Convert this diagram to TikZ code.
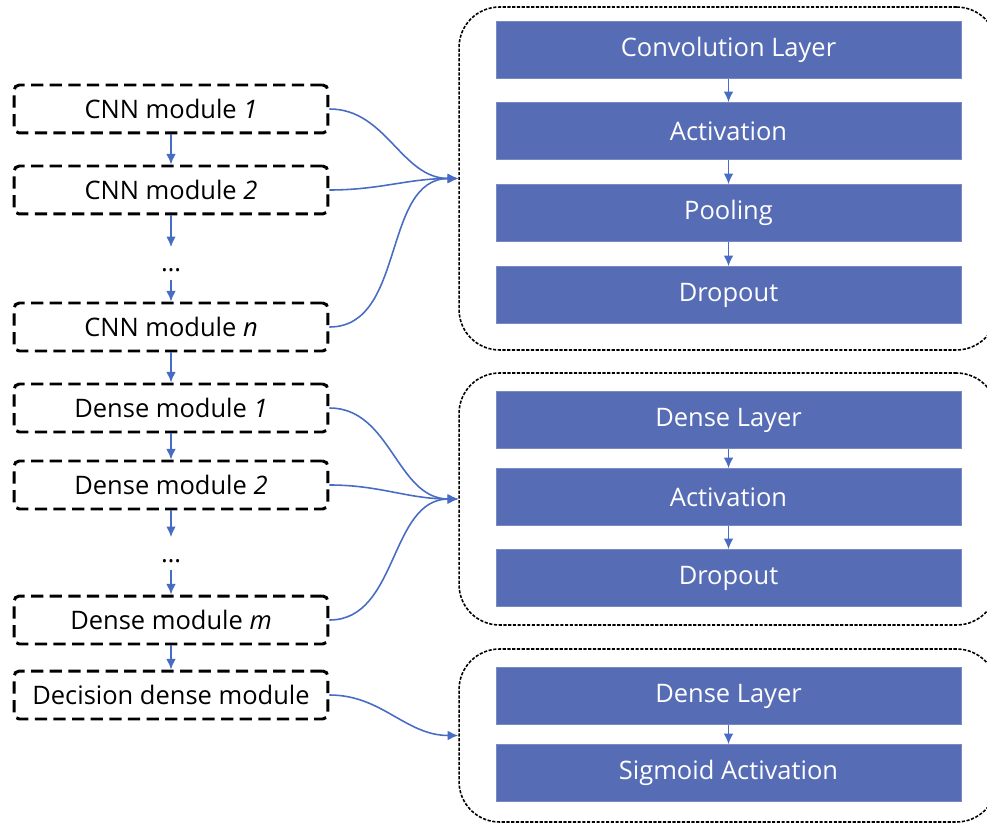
\documentclass[tikz,border=0pt]{standalone}
\usepackage{fontspec}
\setmainfont{Open Sans}
\usepackage{tikz}
\usetikzlibrary{arrows.meta}

\definecolor{layerblue}{RGB}{86,108,181}
\definecolor{linkblue}{RGB}{72,108,196}

\tikzset{
  module/.style={draw, line width=1.7pt, dash pattern=on 7pt off 3.6pt,
    rounded corners=3pt, minimum width=6.28cm, minimum height=0.96cm},
  layer/.style={fill=layerblue, draw=layerblue!80!white, thin, text=white,
    minimum width=9.3cm, minimum height=1.14cm},
  group/.style={draw, line width=0.9pt, dash pattern=on 1.8pt off 0.9pt,
    rounded corners=23pt, minimum width=10.76cm},
  gap/.style={anchor=base, inner sep=2pt, text height=12pt, text depth=2.5pt},
  link/.style={draw=linkblue, line width=0.9pt, -{Latex[length=6pt, width=5.5pt]}}
}

\begin{document}
\begin{tikzpicture}[x=0.02cm, y=-0.02cm, font=\fontsize{14.5}{17}\selectfont]
  \useasboundingbox (0, 0) rectangle (987, 827);

  % dotted groups on the right
  \node [group, minimum height=6.86cm] (cnngroup) at (728, 178.5) {};
  \node [group, minimum height=5.04cm] (densegroup) at (728, 499) {};
  \node [group, minimum height=3.46cm] (decgroup) at (728, 735.5) {};

  % layers inside each group
  \node [layer] (conv) at (728.5, 50) {Convolution Layer};
  \node [layer] (act) at (728.5, 131) {Activation};
  \node [layer] (pool) at (728.5, 213) {Pooling};
  \node [layer] (drop) at (728.5, 295) {Dropout};

  \node [layer] (dlayer) at (728.5, 420) {Dense Layer};
  \node [layer] (dact) at (728.5, 497) {Activation};
  \node [layer] (ddrop) at (728.5, 578) {Dropout};

  \node [layer] (slayer) at (728.5, 696) {Dense Layer};
  \node [layer] (sig) at (728.5, 773) {Sigmoid Activation};

  \foreach \a/\b in {conv/act, act/pool, pool/drop, dlayer/dact, dact/ddrop, slayer/sig}
    \draw [link] (\a) -- (\b);

  % chain of modules on the left
  \node [module] (cnn1) at (171, 109) {CNN module \textit{1}};
  \node [module] (cnn2) at (171, 190) {CNN module \textit{2}};
  \node [gap] (cnndots) at (171, 272) {\dots};
  \node [module] (cnnn) at (171, 327) {CNN module \textit{n}};
  \node [module] (dense1) at (171, 408) {Dense module \textit{1}};
  \node [module] (dense2) at (171, 485) {Dense module \textit{2}};
  \node [gap] (densedots) at (171, 562) {\dots};
  \node [module] (densem) at (171, 620) {Dense module \textit{m}};
  \node [module] (decision) at (171, 695) {Decision dense module};

  \draw [link] (cnn1) -- (cnn2);
  \draw [link] (cnn2) -- (cnndots);
  \draw [link] (cnndots) -- (cnnn);
  \draw [link] (cnnn) -- (dense1);
  \draw [link] (dense1) -- (dense2);
  \draw [link] (dense2) -- (densedots);
  \draw [link] (densedots) -- (densem);
  \draw [link] (densem) -- (decision);

  % every module feeds its group
  \foreach \m in {cnn1, cnn2, cnnn}
    \draw [link] (\m.east) to [out=0, in=180] (cnngroup.west);
  \foreach \m in {dense1, dense2, densem}
    \draw [link] (\m.east) to [out=0, in=180] (densegroup.west);
  \draw [link] (decision.east) to [out=0, in=180] (decgroup.west);

\end{tikzpicture}
\end{document}
